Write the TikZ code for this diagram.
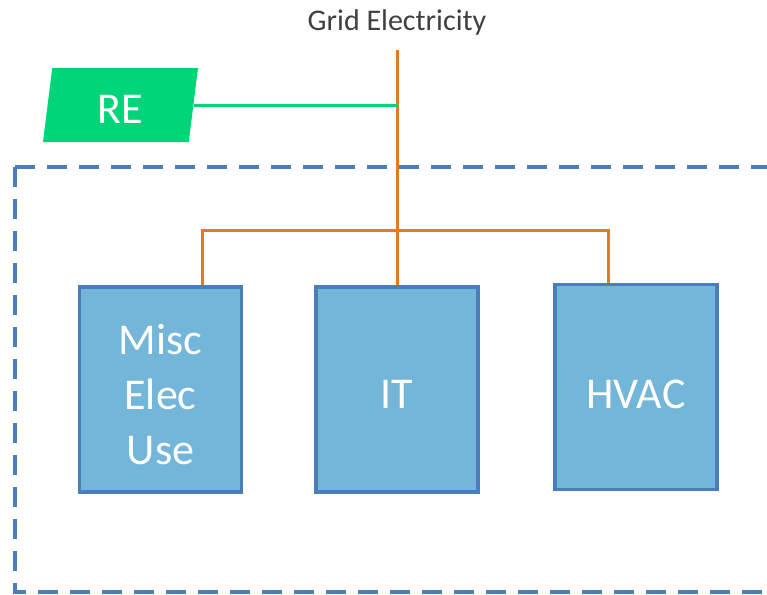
\documentclass[tikz,border=0pt]{standalone}
\usepackage{fontspec}
\setmainfont{Carlito}
\usepackage{xcolor}
\usetikzlibrary{shapes.geometric}
\definecolor{boxblue}{RGB}{116,181,218}
\definecolor{edgeblue}{RGB}{74,126,187}
\definecolor{feedorange}{RGB}{224,123,38}
\definecolor{regreen}{RGB}{0,214,120}
\definecolor{gridgray}{RGB}{64,64,64}

\begin{document}
\begin{tikzpicture}[x=1pt, y=-1pt,
    load/.style={draw=edgeblue, line width=3.5pt, fill=boxblue,
      minimum width=162pt, minimum height=205pt, inner sep=0pt},
    loadtext/.style={text=white, align=center, inner sep=0pt,
      font=\fontsize{44}{55}\selectfont, yshift=-5pt},
    feed/.style={feedorange, line width=3pt}]
    \clip (0,0) rectangle (767,594);
    % Building boundary
    \draw[edgeblue, line width=4.5pt, dash pattern=on 20pt off 12pt] (15,167) rectangle (800,592);
    % Supply
    \node[font=\fontsize{30}{36}\selectfont, text=gridgray] (grid) at (397,23) {Grid Electricity};
    \node[trapezium, trapezium left angle=75.6, trapezium right angle=104.4, trapezium stretches body,
      fill=regreen, minimum width=155pt, minimum height=74pt, inner sep=0pt,
      text=white, text height=36pt, text depth=0pt,
      font=\fontsize{44}{50}\selectfont] (re) at (120.5,105) {RE};
    % Loads
    \node[load, label={[loadtext]center:{Misc\\Elec\\Use}}] (misc) at (160.5,389.5) {};
    \node[load, label={[loadtext]center:IT}] (it) at (397,389.5) {};
    \node[load, label={[loadtext, yshift=-2pt]center:HVAC}] (hvac) at (636,387) {};
    % Feeders
    \coordinate (top) at (397,50);
    \coordinate (busL) at (202,230);
    \coordinate (busR) at (608,230);
    \draw[feed] (top) -- (it.north);
    \draw[feed] (busL |- misc.north) -- (busL) -- (busR) -- (busR |- hvac.north);
    \draw[regreen, line width=3pt] (re.east) -- (re.east -| top);
\end{tikzpicture}
\end{document}
